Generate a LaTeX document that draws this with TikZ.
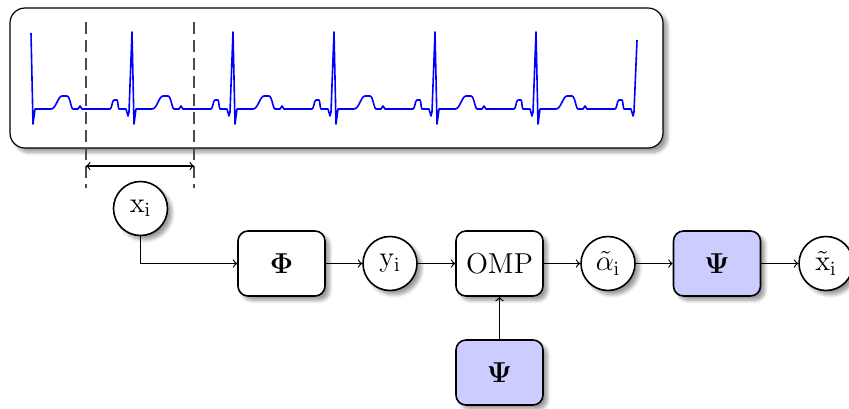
\documentclass[tikz,border=0pt]{standalone}
\usepackage{amsmath}
\usepackage{amssymb}
\usetikzlibrary{shapes,arrows,positioning,shadows.blur}

\begin{document}
\begin{tikzpicture}[x=0.5pt, y=-0.5pt,
    vec/.style={draw, circle, thick, fill=white, font=\Large, minimum size=27pt, inner sep=0pt, blur shadow={shadow blur steps=6}},
    block/.style={draw, rounded corners=5pt, thick, fill=white, font=\Large, minimum width=43.5pt, minimum height=32.5pt, blur shadow={shadow blur steps=6}},
    dict/.style={block, fill=blue!20},
    conn/.style={semithick, ->}]
                \useasboundingbox (0,0) rectangle (849,408);
                % signal window
                \node[draw, semithick, rounded corners=7.5pt, fill=white, inner sep=0pt, minimum width=326.5pt, minimum height=70pt, blur shadow={shadow blur steps=8}] (win) at (336.5,78) {};
                \draw[blue, line width=0.8pt, line join=round] (31,33)
                    \foreach \X/\P in {31/32, 132/32, 233/32, 334/32, 435/32, 536/40} {
                        -- (\X+2,124) -- (\X+4,109) -- (\X+20,109)
                        .. controls (\X+25,109) and (\X+27,96) .. (\X+31,96) -- (\X+36,96)
                        .. controls (\X+39,96) and (\X+40,109) .. (\X+42,109)
                        -- (\X+47,109) -- (\X+49,106) -- (\X+51,109) -- (\X+79,109)
                        .. controls (\X+81,109) and (\X+81,100) .. (\X+83,100) -- (\X+86,100)
                        .. controls (\X+87,100) and (\X+87,109) .. (\X+88,109)
                        -- (\X+95,109) -- (\X+97,116) -- (\X+98,112) -- (\X+101,\P)
                    };
                \coordinate (wl) at (86,22);
                \coordinate (wlb) at (86,188);
                \coordinate (wr) at (194,22);
                \coordinate (wrb) at (194,188);
                \coordinate (al) at (86,166);
                \coordinate (ar) at (194,166);
                \draw[black!70, semithick, dash pattern=on 6pt off 3pt] (wl) -- (wlb);
                \draw[black!70, semithick, dash pattern=on 6pt off 3pt] (wr) -- (wrb);
                \draw[semithick, <->] (al) -- (ar);

                % processing chain
                \node[vec] (xi) at (140.5,208.5) {$\mathrm{x_i}$};
                \node[block] (phi) at (281.5,263.5) {$\mathbf{\Phi}$};
                \node[vec] (yi) at (390,263.5) {$\mathrm{y_i}$};
                \node[block] (omp) at (499.5,263.5) {OMP};
                \node[vec] (ai) at (608,263.5) {$\tilde{\alpha}_{\mathrm{i}}$};
                \node[dict] (psi) at (717,263.5) {$\mathbf{\Psi}$};
                \node[vec] (xr) at (826,263.5) {$\tilde{\mathrm{x}}_{\mathrm{i}}$};
                \node[dict] (psid) at (499.5,372.5) {$\mathbf{\Psi}$};

                \draw[conn] (xi) |- (phi);
                \draw[conn] (phi) -- (yi);
                \draw[conn] (yi) -- (omp);
                \draw[conn] (omp) -- (ai);
                \draw[conn] (ai) -- (psi);
                \draw[conn] (psi) -- (xr);
                \draw[conn] (psid) -- (omp);
            \end{tikzpicture}
\end{document}
